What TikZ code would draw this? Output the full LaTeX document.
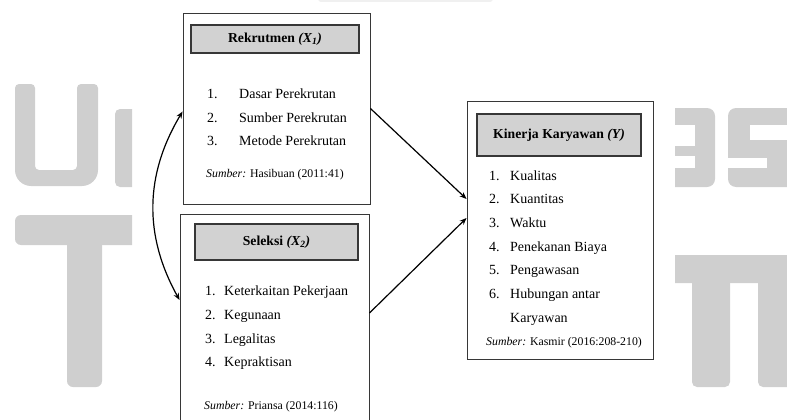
\documentclass[tikz,border=0pt]{standalone}
\usepackage{fontspec}
\setmainfont{Liberation Serif}
\usetikzlibrary{arrows.meta}
\definecolor{wm}{RGB}{207,207,207}
\definecolor{hdrfill}{RGB}{210,210,210}
\definecolor{edge}{RGB}{55,55,55}
\begin{document}
\begin{tikzpicture}[x=1pt,y=-1pt,
  outerbox/.style={draw=edge, line width=0.9pt, fill=white, inner sep=0pt},
  hdrbox/.style={draw=edge, line width=1.1pt, fill=hdrfill, inner sep=0pt, font=\fontsize{13.7}{16}\selectfont\bfseries},
  item/.style={anchor=base west, inner sep=0pt, font=\fontsize{14}{16}\selectfont},
  src/.style={anchor=base west, inner sep=0pt, font=\fontsize{11.8}{14}\selectfont},
  arr/.style={-{Stealth[length=7pt,width=5.5pt]}, line width=1.2pt},
  dbl/.style={{Stealth[length=7pt,width=5.5pt]}-{Stealth[length=7pt,width=5.5pt]}, line width=1.2pt}]
\useasboundingbox (0,0) rectangle (787,420);

% watermark (left)
\begin{scope}
\clip (0,0) rectangle (132,420);
\fill[wm] [rounded corners=4] (15,84) -- (35,84) -- (35,170) -- (77,170) -- (77,84) -- (98,84) [rounded corners=16] -- (98,186) -- (15,186) [rounded corners=4] -- cycle;
\fill[wm, rounded corners=5] (115,109) rectangle (145,187);
\fill[wm, rounded corners=6] (15,215) rectangle (145,245);
\fill[wm, rounded corners=6] (67,235) rectangle (102,387);
\end{scope}
% watermark (right)
\begin{scope}
\clip (675,0) rectangle (787,420);
\fill[wm, rounded corners=8] (660,108) rectangle (715,187);
\fill[white] (660,125) rectangle (695,146);
\fill[white] (660,156) rectangle (695,168);
\fill[wm, rounded corners=8] (728,108) rectangle (800,187);
\fill[white] (750,125) rectangle (800,140);
\fill[white] (728,158) rectangle (767,168);
\fill[wm, rounded corners=12] (660,255) rectangle (800,283);
\fill[wm, rounded corners=5] (692,275) rectangle (730,387);
\fill[wm, rounded corners=5] (758,275) rectangle (800,387);
\end{scope}
\fill[gray!12, rounded corners=3] (318,-10) rectangle (493,2);

% boxes
\node[outerbox, minimum width=187pt, minimum height=191pt] (box1) at (276.5,108.5) {};
\node[outerbox, minimum width=189pt, minimum height=212pt] (box2) at (274.5,320) {};
\node[outerbox, minimum width=186pt, minimum height=258pt] (box3) at (560,230) {};

% headers
\node[hdrbox, minimum width=168pt, minimum height=28pt] (h1) at (275,39) {Rekrutmen \textit{(X\textsubscript{1})}};
\node[hdrbox, minimum width=163pt, minimum height=36pt] (h2) at (276.5,242) {Seleksi \textit{(X\textsubscript{2})}};
\node[hdrbox, minimum width=164pt, minimum height=42pt] (h3) at (559,135) {Kinerja Karyawan \textit{(Y)}};

% box 1 items
\node[item] (n11) at (207,98) {1.};
\node[item] (t11) at (239,98) {Dasar Perekrutan};
\node[item] (n12) at (207,122) {2.};
\node[item] (t12) at (239,122) {Sumber Perekrutan};
\node[item] (n13) at (207,145.5) {3.};
\node[item] (t13) at (239,145.5) {Metode Perekrutan};
\node[src] (s1) at (206,177) {\textit{Sumber:} Hasibuan (2011:41)};

% box 2 items
\node[item] (n21) at (205,295.5) {1.};
\node[item] (t21) at (224,295.5) {Keterkaitan Pekerjaan};
\node[item] (n22) at (205,319.5) {2.};
\node[item] (t22) at (224,319.5) {Kegunaan};
\node[item] (n23) at (205,343.5) {3.};
\node[item] (t23) at (224,343.5) {Legalitas};
\node[item] (n24) at (205,366.5) {4.};
\node[item] (t24) at (224,366.5) {Kepraktisan};
\node[src] (s2) at (204,409) {\textit{Sumber:} Priansa (2014:116)};

% box 3 items
\node[item] (n31) at (489,180.5) {1.};
\node[item] (t31) at (510,180.5) {Kualitas};
\node[item] (n32) at (489,203.5) {2.};
\node[item] (t32) at (510,203.5) {Kuantitas};
\node[item] (n33) at (489,227.5) {3.};
\node[item] (t33) at (510,227.5) {Waktu};
\node[item] (n34) at (489,251.5) {4.};
\node[item] (t34) at (510,251.5) {Penekanan Biaya};
\node[item] (n35) at (489,274.5) {5.};
\node[item] (t35) at (510,274.5) {Pengawasan};
\node[item] (n36) at (489,298.5) {6.};
\node[item] (t36) at (510,298.5) {Hubungan antar};
\node[item] (t37) at (510,322.5) {Karyawan};
\node[src] (s3) at (486,345) {\textit{Sumber:} Kasmir (2016:208-210)};

% connectors
\draw[arr] (box1.east) -- ([yshift=31pt]box3.west);
\draw[arr] ([yshift=7pt]box2.east) -- ([yshift=12pt]box3.west);
\draw[dbl] ([yshift=-3pt]box1.west) to[bend right=30] ([yshift=20pt]box2.west);
\end{tikzpicture}
\end{document}
